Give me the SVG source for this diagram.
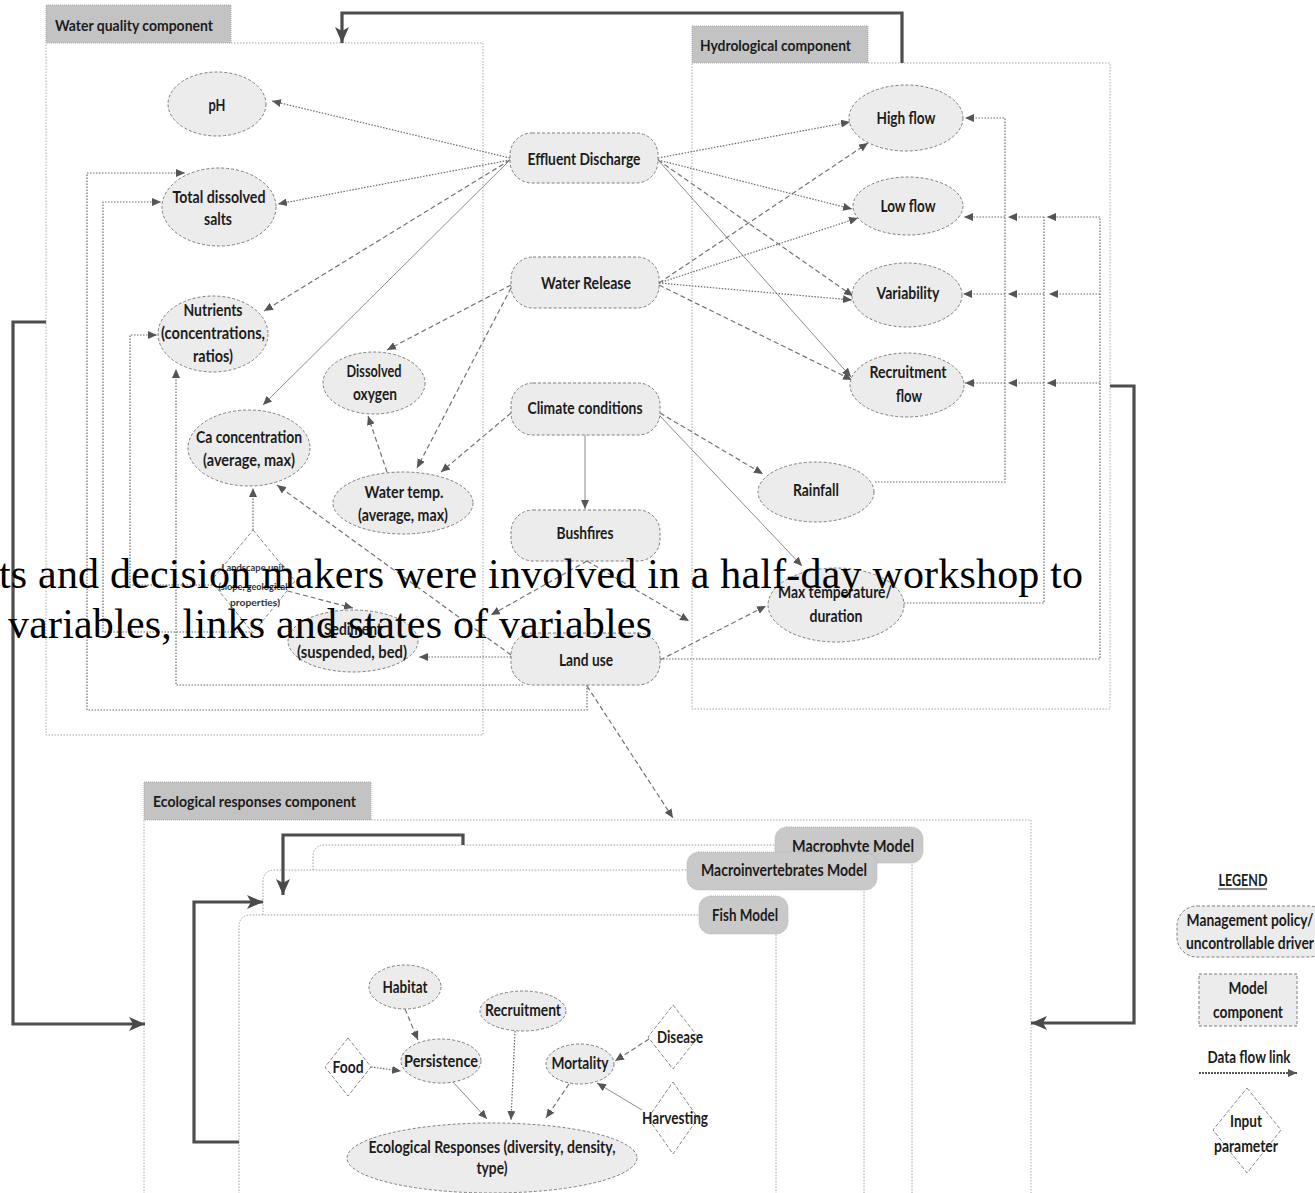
<svg xmlns="http://www.w3.org/2000/svg" width="1315" height="1193" viewBox="0 0 1315 1193">
<style>
  .box { fill: none; stroke: #a8a8a8; stroke-width: 1; stroke-dasharray: 1.5 1.5; }
  .card { fill: #ffffff; stroke: #a0a0a0; stroke-width: 1; stroke-dasharray: 1.5 1.5; }
  .tab { fill: #c3c3c3; stroke: #a9a9a9; stroke-width: 1; stroke-dasharray: 1 1; }
  .mtab { fill: #c9c9c9; stroke: #b5b5b5; stroke-width: 1; stroke-dasharray: 1 1; }
  .node { fill: #ececec; stroke: #7d7d7d; stroke-width: 1; stroke-dasharray: 3 2; }
  .param { fill: #ffffff; stroke: #8a8a8a; stroke-width: 1; stroke-dasharray: 4 2; }
  .dot { fill: none; stroke: #6a6a6a; stroke-width: 1.2; stroke-dasharray: 1.5 1.5; marker-end: url(#a); }
  .dash { fill: none; stroke: #727272; stroke-width: 1.2; stroke-dasharray: 5 3; marker-end: url(#a); }
  .solid { fill: none; stroke: #8c8c8c; stroke-width: 1; marker-end: url(#a); }
  .plain { fill: none; stroke: #6a6a6a; stroke-width: 1.2; stroke-dasharray: 1.5 1.5; }
  .thick { fill: none; stroke: #4d4d4d; stroke-width: 3.2; marker-end: url(#big); }
  .t { font-family: Lato, "Noto Sans", sans-serif; font-weight: 700; font-size: 17px; fill: #1c1c1c; text-anchor: middle; }
  .h { font-family: Lato, "Noto Sans", sans-serif; font-weight: 700; font-size: 15px; fill: #1c1c1c; }
  .s { font-family: Lato, "Noto Sans", sans-serif; font-weight: 700; font-size: 9.5px; fill: #333; text-anchor: middle; }
  .cap { font-family: "Liberation Serif", "Times New Roman", serif; font-size: 42px; fill: #000; }
</style>
<defs>
  <marker id="a" markerUnits="userSpaceOnUse" markerWidth="9" markerHeight="8" refX="9" refY="4" orient="auto">
    <path d="M0,0 L9,4 L0,8 z" fill="#555"/>
  </marker>
  <marker id="big" markerUnits="userSpaceOnUse" markerWidth="16" markerHeight="14" refX="16" refY="7" orient="auto">
    <path d="M0,0 L16,7 L0,14 L4,7 z" fill="#4a4a4a"/>
  </marker>
</defs>

<rect width="1315" height="1193" fill="#ffffff"/>

<!-- component frames -->
<g id="water-quality-component">
  <path class="box" d="M231,43 L483,43 L483,735 L46,735 L46,43"/>
  <rect class="tab" x="46" y="5" width="185" height="38"/>
  <text class="h" x="55" y="31" textLength="158" lengthAdjust="spacingAndGlyphs">Water quality component</text>
</g>
<g id="hydrological-component">
  <path class="box" d="M868,63 L1110,63 L1110,709 L692,709 L692,63"/>
  <rect class="tab" x="692" y="26" width="176" height="37"/>
  <text class="h" x="700" y="51" textLength="151" lengthAdjust="spacingAndGlyphs">Hydrological component</text>
</g>
<g id="ecological-responses-component">
  <path class="box" d="M371,820 L1031,820 L1031,1200 M144,1200 L144,820"/>
  <rect class="tab" x="144" y="782" width="227" height="38"/>
  <text class="h" x="153" y="807" textLength="203" lengthAdjust="spacingAndGlyphs">Ecological responses component</text>
</g>

<!-- stacked sub-model cards -->
<g id="macrophyte-model">
  <path class="card" d="M313,1200 L313,857 Q313,845 325,845 L912,845 L912,1200"/>
  <rect class="mtab" x="775" y="827" width="148" height="36" rx="12"/>
  <text class="t" x="853" y="852" textLength="122" lengthAdjust="spacingAndGlyphs">Macrophyte  Model</text>
</g>
<g id="macroinvertebrates-model">
  <path class="card" d="M263,1200 L263,882 Q263,870 275,870 L864,870 L864,1200"/>
  <rect class="mtab" x="687" y="852" width="190" height="38" rx="12"/>
  <text class="t" x="784" y="876" textLength="166" lengthAdjust="spacingAndGlyphs">Macroinvertebrates Model</text>
</g>
<g id="fish-model">
  <path class="card" d="M239,1200 L239,927 Q239,915 251,915 L776,915 L776,1200"/>
  <rect class="mtab" x="699" y="896" width="89" height="38" rx="12"/>
  <text class="t" x="745" y="921" textLength="66" lengthAdjust="spacingAndGlyphs">Fish Model</text>
</g>

<!-- connectors -->
<g id="connectors">
  <!-- effluent discharge -->
  <path class="dot" d="M510,158 L272,101"/>
  <path class="dot" d="M510,160 L278,204"/>
  <path class="dash" d="M510,160 L264,311"/>
  <path class="solid" d="M510,160 L263,405"/>
  <path class="dot" d="M658,158 L850,122"/>
  <path class="dot" d="M658,160 L852,209"/>
  <path class="dash" d="M658,160 L853,296"/>
  <path class="solid" d="M658,160 L851,377"/>
  <!-- water release -->
  <path class="dash" d="M659,283 L868,143"/>
  <path class="dot" d="M659,283 L858,218"/>
  <path class="dot" d="M659,283 L852,300"/>
  <path class="dash" d="M659,285 L852,380"/>
  <path class="dash" d="M511,285 L387,350"/>
  <path class="dash" d="M511,288 L417,468"/>
  <!-- climate conditions -->
  <path class="dash" d="M511,413 L441,472"/>
  <path class="dash" d="M387,472 L368,416"/>
  <path class="solid" d="M585,435 L585,509"/>
  <path class="dash" d="M660,413 L763,474"/>
  <path class="solid" d="M660,416 L802,566"/>
  <!-- bushfires -->
  <path class="dash" d="M587,561 L491,615"/>
  <path class="dash" d="M587,561 L689,621"/>
  <!-- land use -->
  <path class="dash" d="M660,660 L766,606"/>
  <path class="dash" d="M511,655 L277,485"/>
  <path class="dot" d="M511,657 L419,657"/>
  <path class="dot" d="M587,685 L587,710 L87,710 L87,173 L185,173"/>
  <path class="dot" d="M523,685 L176,685 L176,369"/>
  <path class="dash" d="M587,686 L673,818"/>
  <!-- landscape unit -->
  <path class="dot" d="M253,530 L253,488"/>
  <path class="dash" d="M272,587 L353,608"/>
  <path class="dot" d="M212,585 L130,585 L130,335 L157,335"/>
  <path class="dot" d="M253,632 L103,632 L103,202 L161,202"/>
  <!-- rainfall feed -->
  <path class="dot" d="M875,482 L1005,482 L1005,118 L965,118"/>
  <path class="dot" d="M1005,217 L964,217"/>
  <path class="dot" d="M1005,294 L963,294"/>
  <path class="dot" d="M1005,383 L965,383"/>
  <!-- max temperature feed -->
  <path class="plain" d="M904,603 L1044,603 L1044,217"/>
  <path class="dot" d="M1044,217 L1008,217"/>
  <path class="dot" d="M1044,294 L1008,294"/>
  <path class="dot" d="M1044,383 L1008,383"/>
  <!-- land use feed -->
  <path class="plain" d="M660,659 L1100,659 L1100,217"/>
  <path class="dot" d="M1100,217 L1047,217"/>
  <path class="dot" d="M1100,294 L1049,294"/>
  <path class="dot" d="M1100,383 L1047,383"/>
  <!-- component links -->
  <path class="thick" d="M902,63 L902,13 L342,13 L342,43"/>
  <path class="thick" d="M46,322 L13,322 L13,1024 L145,1024"/>
  <path class="thick" d="M1110,386 L1134,386 L1134,1023 L1031,1023"/>
  <path class="thick" d="M463,845 L463,835 L283,835 L283,895"/>
  <path class="thick" d="M239,1142 L194,1142 L194,902 L263,902"/>
  <!-- ecological responses -->
  <path class="dash" d="M405,1009 L418,1040"/>
  <path class="dot" d="M371,1067 L401,1071"/>
  <path class="solid" d="M453,1082 L487,1119"/>
  <path class="dot" d="M515,1031 L511,1120"/>
  <path class="dash" d="M569,1084 L546,1118"/>
  <path class="dash" d="M649,1039 L615,1061"/>
  <path class="solid" d="M642,1110 L597,1083"/>
</g>

<!-- water quality nodes -->
<g id="ph"><ellipse class="node" cx="217" cy="104" rx="49" ry="32"/>
  <text class="t" x="217" y="111" textLength="17" lengthAdjust="spacingAndGlyphs">pH</text></g>
<g id="total-dissolved-salts"><ellipse class="node" cx="219" cy="207" rx="57" ry="39"/>
  <text class="t" x="219" y="203" textLength="93" lengthAdjust="spacingAndGlyphs">Total dissolved</text>
  <text class="t" x="218" y="225" textLength="28" lengthAdjust="spacingAndGlyphs">salts</text></g>
<g id="nutrients"><ellipse class="node" cx="213" cy="334" rx="55" ry="38"/>
  <text class="t" x="213" y="316" textLength="59" lengthAdjust="spacingAndGlyphs">Nutrients</text>
  <text class="t" x="213" y="339" textLength="104" lengthAdjust="spacingAndGlyphs">(concentrations,</text>
  <text class="t" x="213" y="362" textLength="40" lengthAdjust="spacingAndGlyphs">ratios)</text></g>
<g id="dissolved-oxygen"><ellipse class="node" cx="374" cy="383" rx="51" ry="31"/>
  <text class="t" x="374" y="377" textLength="55" lengthAdjust="spacingAndGlyphs">Dissolved</text>
  <text class="t" x="375" y="400" textLength="44" lengthAdjust="spacingAndGlyphs">oxygen</text></g>
<g id="ca-concentration"><ellipse class="node" cx="249" cy="448" rx="61" ry="38"/>
  <text class="t" x="249" y="443" textLength="106" lengthAdjust="spacingAndGlyphs">Ca concentration</text>
  <text class="t" x="249" y="466" textLength="92" lengthAdjust="spacingAndGlyphs">(average, max)</text></g>
<g id="water-temp"><ellipse class="node" cx="403" cy="503" rx="70" ry="31"/>
  <text class="t" x="404" y="498" textLength="79" lengthAdjust="spacingAndGlyphs">Water temp.</text>
  <text class="t" x="403" y="521" textLength="90" lengthAdjust="spacingAndGlyphs">(average, max)</text></g>
<g id="landscape-unit"><path class="param" d="M253,530 L295,581 L253,633 L211,581 z"/>
  <text class="s" x="253" y="571" textLength="63" lengthAdjust="spacingAndGlyphs">Landscape unit</text>
  <text class="s" x="253" y="590" textLength="69" lengthAdjust="spacingAndGlyphs">(slope, geological</text>
  <text class="s" x="255" y="606" textLength="50" lengthAdjust="spacingAndGlyphs">properties)</text></g>
<g id="sediment"><ellipse class="node" cx="353" cy="641" rx="65" ry="31"/>
  <text class="t" x="353" y="635" textLength="58" lengthAdjust="spacingAndGlyphs">Sediment</text>
  <text class="t" x="352" y="658" textLength="110" lengthAdjust="spacingAndGlyphs">(suspended, bed)</text></g>

<!-- drivers -->
<g id="effluent-discharge"><rect class="node" x="510" y="133" width="148" height="50" rx="22"/>
  <text class="t" x="584" y="165" textLength="113" lengthAdjust="spacingAndGlyphs">Effluent Discharge</text></g>
<g id="water-release"><rect class="node" x="511" y="257" width="148" height="51" rx="22"/>
  <text class="t" x="586" y="289" textLength="90" lengthAdjust="spacingAndGlyphs">Water Release</text></g>
<g id="climate-conditions"><rect class="node" x="511" y="383" width="149" height="52" rx="22"/>
  <text class="t" x="585" y="414" textLength="115" lengthAdjust="spacingAndGlyphs">Climate conditions</text></g>
<g id="bushfires"><rect class="node" x="511" y="510" width="149" height="51" rx="22"/>
  <text class="t" x="585" y="539" textLength="57" lengthAdjust="spacingAndGlyphs">Bushfires</text></g>
<g id="land-use"><rect class="node" x="511" y="633" width="149" height="52" rx="22"/>
  <text class="t" x="586" y="666" textLength="54" lengthAdjust="spacingAndGlyphs">Land use</text></g>

<!-- hydrological nodes -->
<g id="high-flow"><ellipse class="node" cx="906" cy="118" rx="57" ry="33"/>
  <text class="t" x="906" y="124" textLength="59" lengthAdjust="spacingAndGlyphs">High flow</text></g>
<g id="low-flow"><ellipse class="node" cx="908" cy="206" rx="55" ry="29"/>
  <text class="t" x="908" y="212" textLength="55" lengthAdjust="spacingAndGlyphs">Low flow</text></g>
<g id="variability"><ellipse class="node" cx="907" cy="295" rx="55" ry="32"/>
  <text class="t" x="908" y="299" textLength="63" lengthAdjust="spacingAndGlyphs">Variability</text></g>
<g id="recruitment-flow"><ellipse class="node" cx="907" cy="385" rx="57" ry="32"/>
  <text class="t" x="908" y="378" textLength="77" lengthAdjust="spacingAndGlyphs">Recruitment</text>
  <text class="t" x="909" y="402" textLength="26" lengthAdjust="spacingAndGlyphs">flow</text></g>
<g id="rainfall"><ellipse class="node" cx="816" cy="492" rx="58" ry="30"/>
  <text class="t" x="816" y="496" textLength="46" lengthAdjust="spacingAndGlyphs">Rainfall</text></g>
<g id="max-temperature"><ellipse class="node" cx="836" cy="605" rx="68" ry="37"/>
  <text class="t" x="835" y="598" textLength="114" lengthAdjust="spacingAndGlyphs">Max temperature/</text>
  <text class="t" x="836" y="622" textLength="53" lengthAdjust="spacingAndGlyphs">duration</text></g>

<!-- ecological nodes -->
<g id="habitat"><ellipse class="node" cx="405" cy="987" rx="36" ry="22"/>
  <text class="t" x="405" y="993" textLength="45" lengthAdjust="spacingAndGlyphs">Habitat</text></g>
<g id="persistence"><ellipse class="node" cx="441" cy="1061" rx="40" ry="22"/>
  <text class="t" x="441" y="1067" textLength="74" lengthAdjust="spacingAndGlyphs">Persistence</text></g>
<g id="food"><path class="param" d="M348,1038 L371,1067 L348,1096 L325,1067 z"/>
  <text class="t" x="348" y="1073" textLength="31" lengthAdjust="spacingAndGlyphs">Food</text></g>
<g id="recruitment"><ellipse class="node" cx="523" cy="1011" rx="43" ry="20"/>
  <text class="t" x="523" y="1016" textLength="76" lengthAdjust="spacingAndGlyphs">Recruitment</text></g>
<g id="mortality"><ellipse class="node" cx="580" cy="1064" rx="34" ry="20"/>
  <text class="t" x="580" y="1069" textLength="57" lengthAdjust="spacingAndGlyphs">Mortality</text></g>
<g id="disease"><path class="param" d="M673,1005 L698,1037 L673,1069 L648,1037 z"/>
  <text class="t" x="680" y="1043" textLength="46" lengthAdjust="spacingAndGlyphs">Disease</text></g>
<g id="harvesting"><path class="param" d="M673,1082 L698,1118 L673,1154 L648,1118 z"/>
  <text class="t" x="675" y="1124" textLength="66" lengthAdjust="spacingAndGlyphs">Harvesting</text></g>
<g id="ecological-responses"><ellipse class="node" cx="492" cy="1158" rx="145" ry="35"/>
  <text class="t" x="492" y="1153" textLength="247" lengthAdjust="spacingAndGlyphs">Ecological Responses (diversity, density,</text>
  <text class="t" x="492" y="1174" textLength="31" lengthAdjust="spacingAndGlyphs">type)</text></g>

<!-- legend -->
<g id="legend">
  <text class="t" x="1243" y="886" font-size="14" textLength="49" lengthAdjust="spacingAndGlyphs">LEGEND</text>
  <line x1="1218" y1="889" x2="1267" y2="889" stroke="#1c1c1c" stroke-width="1.2"/>
  <rect class="node" x="1177" y="906" width="152" height="51" rx="20"/>
  <text class="t" x="1250" y="926" textLength="127" lengthAdjust="spacingAndGlyphs">Management policy/</text>
  <text class="t" x="1250" y="949" textLength="128" lengthAdjust="spacingAndGlyphs">uncontrollable driver</text>
  <rect class="node" x="1199" y="974" width="98" height="52" stroke-dasharray="1.5 1.5"/>
  <text class="t" x="1248" y="994" textLength="39" lengthAdjust="spacingAndGlyphs">Model</text>
  <text class="t" x="1248" y="1018" textLength="70" lengthAdjust="spacingAndGlyphs">component</text>
  <text class="t" x="1249" y="1063" textLength="83" lengthAdjust="spacingAndGlyphs">Data flow link</text>
  <path d="M1199,1073 L1297,1073" fill="none" stroke="#555" stroke-width="2" stroke-dasharray="2 1" marker-end="url(#a)"/>
  <path class="param" d="M1247,1088 L1281,1130 L1247,1173 L1213,1130 z"/>
  <text class="t" x="1246" y="1127" textLength="32" lengthAdjust="spacingAndGlyphs">Input</text>
  <text class="t" x="1246" y="1152" textLength="64" lengthAdjust="spacingAndGlyphs">parameter</text>
</g>

<!-- caption lines printed over the figure -->
<g id="caption">
  <text class="cap" x="-1" y="588" textLength="1084">ts and decision makers were involved in a half-day workshop to</text>
  <text class="cap" x="8" y="638" textLength="644">variables, links and states of variables</text>
</g>
</svg>
